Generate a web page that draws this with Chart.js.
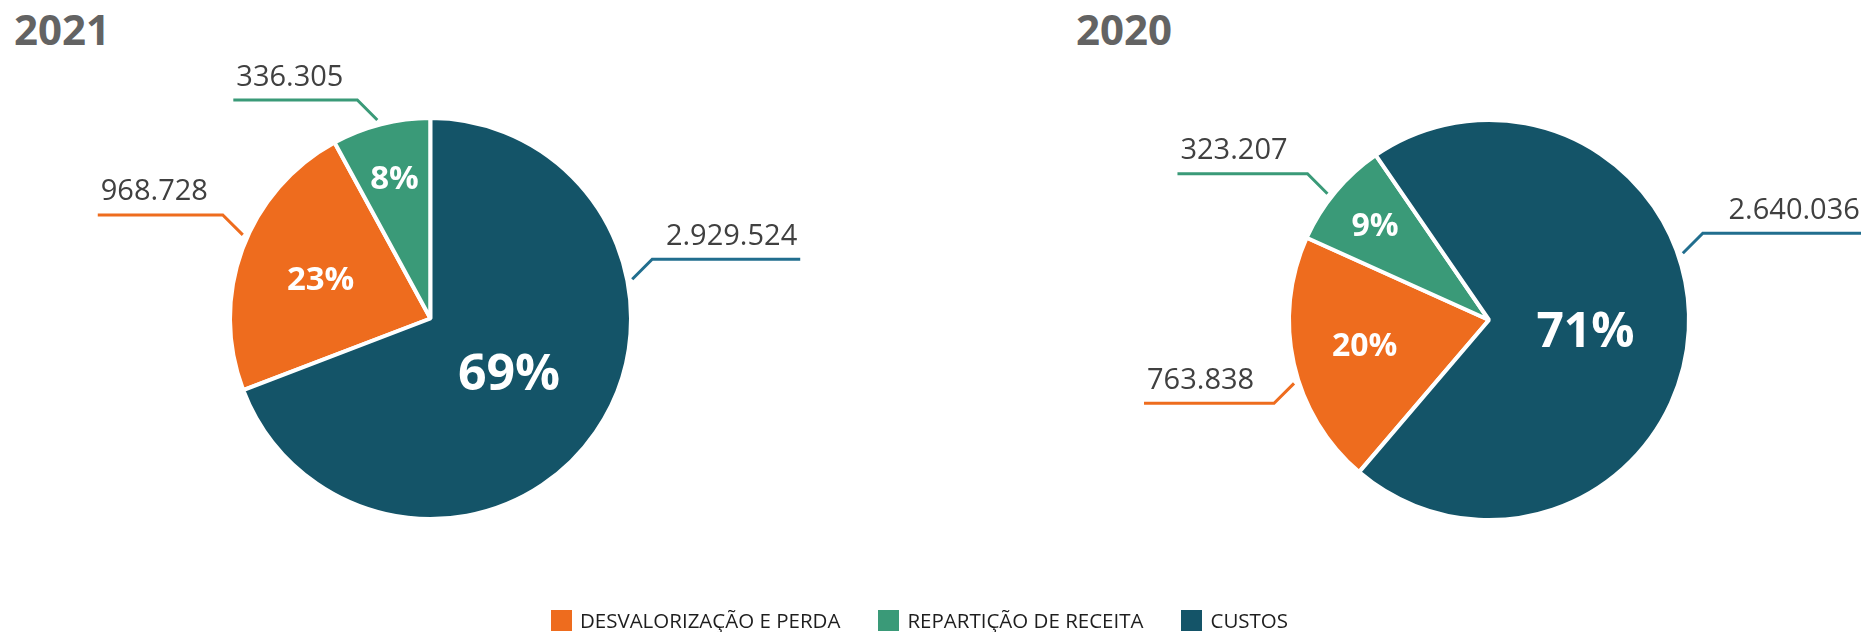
<!DOCTYPE html>
<html>
<head>
<meta charset="utf-8">
<script src="https://cdn.jsdelivr.net/npm/chart.js@4/dist/chart.umd.min.js"></script>
<style>
  html, body { margin:0; padding:0; background:#fff; }
  body { width:1861px; height:632px; position:relative; overflow:hidden; font-family:"Open Sans", sans-serif; }
  canvas { position:absolute; top:0; }
  .title { position:absolute; top:8px; font:bold 42px/42px "Open Sans", sans-serif; color:#636363; }
  #legend { position:absolute; left:0; width:1839px; top:610px; display:flex; justify-content:center; align-items:center; }
  .item { display:flex; align-items:center; margin:0 19px; font:20.5px/21px "Open Sans", sans-serif; color:#1e1e1e; }
  .sw { width:21px; height:21px; margin-right:8px; }
</style>
</head>
<body>
<div class="title" id="t0" style="left:14px"></div>
<div class="title" id="t1" style="left:1076px"></div>
<canvas id="c0" width="930" height="632" style="left:0"></canvas>
<canvas id="c1" width="931" height="632" style="left:930px"></canvas>
<div id="legend"></div>
<script>
// ---- data ----
const categories = ['DESVALORIZAÇÃO E PERDA', 'REPARTIÇÃO DE RECEITA', 'CUSTOS'];
const years = ['2021', '2020'];
const values2021 = [968728, 336305, 2929524];
const values2020 = [763838, 323207, 2640036];

// ---- styles / layout ----
const sliceColors = ['#EE6C1E', '#3A9A78', '#145468'];
const leaderColors = ['#EE6C1E', '#3A9A78', '#216E8E'];
const layouts = [
  { // 2021
    custosStart: 0,
    padding: {left:228, right:297, top:116, bottom:111},
    pct: [{f:0.59, size:33}, {f:0.735, size:33}, {f:0.48, size:50}],
    lead: [{angle:294, len:125}, {angle:345, len:124}, {angle:79, len:148}]
  },
  { // 2020
    custosStart: -34.5,
    padding: {left:357, right:170, top:118, bottom:110},
    pct: [{f:0.64, size:32, da:1.5}, {f:0.75, size:32}, {f:0.49, size:48, da:3}],
    lead: [{angle:252, len:130}, {angle:308, len:130}, {angle:71, len:160}]
  }
];

function fmt(v) { return String(v).replace(/\B(?=(\d{3})+(?!\d))/g, '.'); }

const labelPlugin = {
  id: 'pieLabels',
  afterDatasetsDraw(chart, args, opts) {
    const L = opts.layout;
    const ctx = chart.ctx;
    const ds = chart.data.datasets[0];
    const total = ds.data.reduce((a, b) => a + b, 0);
    const meta = chart.getDatasetMeta(0);
    ctx.save();
    meta.data.forEach((arc, i) => {
      const p = arc.getProps(['x', 'y', 'startAngle', 'endAngle', 'outerRadius'], true);
      const visR = p.outerRadius - ds.borderWidth / 2;
      const v = ds.data[i];
      // percentage inside
      const pc = L.pct[i];
      const mid = (p.startAngle + p.endAngle) / 2 + (pc.da || 0) * Math.PI / 180;
      const pr = visR * pc.f;
      const px = p.x + Math.cos(mid) * pr, py = p.y + Math.sin(mid) * pr;
      ctx.font = 'bold ' + pc.size + 'px "Open Sans"';
      ctx.fillStyle = '#ffffff';
      ctx.textAlign = 'center';
      ctx.textBaseline = 'alphabetic';
      ctx.fillText(Math.round(v / total * 100) + '%', px, py + 0.357 * pc.size);
      // leader line + value
      const ld = L.lead[i];
      const a = (ld.angle - 90) * Math.PI / 180;
      const r0 = visR + 7;
      const sx = p.x + Math.cos(a) * r0, sy = p.y + Math.sin(a) * r0;
      const side = Math.cos(a) >= 0 ? 1 : -1;
      const vs = sy < p.y ? -1 : 1;
      const ex = sx + side * 20, ey = sy + vs * 20;
      const hx = ex + side * ld.len;
      ctx.strokeStyle = leaderColors[i];
      ctx.lineWidth = 3;
      ctx.lineJoin = 'miter';
      ctx.beginPath();
      ctx.moveTo(sx, sy); ctx.lineTo(ex, ey); ctx.lineTo(hx, ey);
      ctx.stroke();
      ctx.font = '29px "Open Sans"';
      ctx.fillStyle = '#404040';
      ctx.textAlign = side > 0 ? 'right' : 'left';
      ctx.fillText(fmt(v), hx - side * 3, ey - 14.5);
    });
    ctx.restore();
  }
};

function makePie(canvasId, values, L) {
  const total = values.reduce((a, b) => a + b, 0);
  const rotation = L.custosStart + values[2] / total * 360;
  return new Chart(document.getElementById(canvasId), {
    type: 'pie',
    data: {
      labels: categories,
      datasets: [{
        data: values,
        backgroundColor: sliceColors,
        borderColor: '#ffffff',
        borderWidth: 4,
        offset: 0,
        hoverOffset: 0
      }]
    },
    options: {
      responsive: false,
      animation: false,
      events: [],
      rotation: rotation,
      layout: { padding: L.padding },
      plugins: {
        legend: { display: false },
        tooltip: { enabled: false },
        title: { display: false },
        pieLabels: { layout: L }
      }
    },
    plugins: [labelPlugin]
  });
}

document.getElementById('t0').textContent = years[0];
document.getElementById('t1').textContent = years[1];
const lg = document.getElementById('legend');
categories.forEach((c, i) => {
  const it = document.createElement('div');
  it.className = 'item';
  const sw = document.createElement('div');
  sw.className = 'sw';
  sw.style.background = sliceColors[i];
  const tx = document.createElement('span');
  tx.textContent = c;
  it.appendChild(sw); it.appendChild(tx);
  lg.appendChild(it);
});

makePie('c0', values2021, layouts[0]);
makePie('c1', values2020, layouts[1]);
</script>
</body>
</html>
